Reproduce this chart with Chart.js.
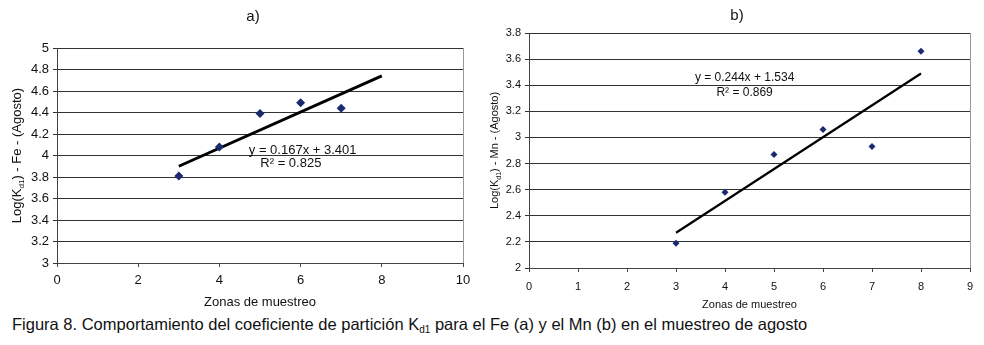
<!DOCTYPE html>
<html>
<head>
<meta charset="utf-8">
<script src="https://cdn.jsdelivr.net/npm/chart.js@4/dist/chart.umd.min.js"></script>
<style>
body { margin:0; background:#fff; width:984px; height:345px; overflow:hidden; position:relative; font-family:"Liberation Sans", Arial, sans-serif; }
.box { position:absolute; top:0; height:310px; }
#cap { position:absolute; left:12px; top:315px; font-family:"Liberation Sans", Arial, sans-serif; font-size:16.5px; line-height:19px; color:#111; white-space:nowrap; }
#cap sub { font-size:10px; vertical-align:-3px; line-height:0; }
</style>
</head>
<body>
<div class="box" style="left:0;width:480px"><canvas id="c1"></canvas></div>
<div class="box" style="left:480px;width:504px"><canvas id="c2"></canvas></div>
<div id="cap">Figura 8. Comportamiento del coeficiente de partición K<sub>d1</sub> para el Fe (a) y el Mn (b) en el muestreo de agosto</div>
<script>
// a) Fe
const zonasFe = [3, 4, 5, 6, 7]
const logKdFe = [3.81, 4.08, 4.39, 4.49, 4.44]
const trendFeX = [3, 8]
const trendFeY = [3.90, 4.74]
// b) Mn
const zonasMn = [3, 4, 5, 6, 7, 8]
const logKdMn = [2.19, 2.58, 2.87, 3.06, 2.93, 3.66]
const trendMnX = [3, 8]
const trendMnY = [2.27, 3.49]

const fam = '"Liberation Sans", Arial, sans-serif'

function pts(xs, ys) {
    let out = []
    for(let i = 0; i < xs.length; i++) out.push({x: xs[i], y: ys[i]})
    return out
}

const extras = {
    id: 'extras',
    afterDraw(chart, args, o) {
        const ctx = chart.ctx
        const sx = chart.scales.x, sy = chart.scales.y
        ctx.save()
        ctx.fillStyle = '#111'
        ctx.textBaseline = 'middle'
        ctx.textAlign = 'center'
        // panel title
        ctx.font = '15px ' + fam
        ctx.fillText(o.title, o.titleX, o.titleY)
        // trendline labels
        ctx.font = o.eqSize + 'px ' + fam
        for(const e of o.eq) {
            ctx.fillText(e.text, sx.getPixelForValue(e.x), sy.getPixelForValue(e.y))
        }
        // y axis title with subscript
        ctx.translate(o.yTitleX, (sy.top + sy.bottom) / 2)
        ctx.rotate(-Math.PI / 2)
        ctx.textAlign = 'left'
        const big = o.axSize + 'px ' + fam, small = Math.round(o.axSize * 0.62) + 'px ' + fam
        ctx.font = big
        const w1 = ctx.measureText('Log(K').width
        const w3 = ctx.measureText(o.yRest).width
        ctx.font = small
        const w2 = ctx.measureText('d1').width
        let x = -(w1 + w2 + w3) / 2
        ctx.font = big
        ctx.fillText('Log(K', x, 0)
        x += w1
        ctx.font = small
        ctx.fillText('d1', x, o.axSize * 0.35)
        x += w2
        ctx.font = big
        ctx.fillText(o.yRest, x, 0)
        ctx.restore()
    }
}

function makeChart(id, cfg) {
    return new Chart(document.getElementById(id), {
        type: 'scatter',
        data: {
            datasets: [{
                data: pts(cfg.xs, cfg.ys),
                pointStyle: 'rectRot',
                pointRadius: cfg.pr,
                backgroundColor: '#1b2a6e',
                borderColor: '#1b2a6e',
                borderWidth: 0
            }, {
                data: pts(cfg.tx, cfg.ty),
                showLine: true,
                pointRadius: 0,
                borderColor: '#000',
                borderWidth: cfg.lw
            }]
        },
        options: {
            responsive: true,
            maintainAspectRatio: false,
            animation: false,
            layout: { padding: { top: cfg.top, right: cfg.right, left: 0, bottom: 0 } },
            plugins: {
                legend: { display: false },
                tooltip: { enabled: false },
                extras: cfg.extras
            },
            scales: {
                x: {
                    min: cfg.xmin, max: cfg.xmax,
                    ticks: { stepSize: cfg.xstep, color: '#111', font: { family: fam, size: cfg.tick }, padding: cfg.xpad },
                    grid: { display: true, drawOnChartArea: false, color: '#444', tickLength: 4 },
                    border: { color: '#444' },
                    title: { display: true, text: 'Zonas de muestreo', color: '#111', font: { family: fam, size: cfg.ax }, padding: { top: 0, bottom: cfg.tbot } },
                    afterFit(s) { s.height = cfg.xh }
                },
                y: {
                    min: cfg.ymin, max: cfg.ymax,
                    ticks: {
                        stepSize: 0.2, color: '#111', font: { family: fam, size: cfg.tick }, padding: 4,
                        callback: v => String(Number(v.toFixed(1)))
                    },
                    grid: { color: '#333', tickLength: 4 },
                    border: { color: '#444' },
                    afterFit(s) { s.width = cfg.yw }
                }
            }
        },
        plugins: [extras, {
            id: 'frame',
            afterDatasetsDraw(chart) {
                const a = chart.chartArea, ctx = chart.ctx
                ctx.save()
                ctx.strokeStyle = '#999'
                ctx.lineWidth = 1
                ctx.beginPath()
                ctx.moveTo(a.right + 0.5, a.top)
                ctx.lineTo(a.right + 0.5, a.bottom)
                ctx.stroke()
                ctx.restore()
            }
        }]
    })
}

makeChart('c1', {
    xs: zonasFe, ys: logKdFe, tx: trendFeX, ty: trendFeY,
    pr: 4.5, lw: 3, top: 48, right: 17, xh: 47, yw: 57,
    xmin: 0, xmax: 10, xstep: 2, ymin: 3, ymax: 5, tick: 13, ax: 13, xpad: 6, tbot: 0,
    extras: {
        title: 'a)', titleX: 253, titleY: 17, eqSize: 13,
        eq: [{text: 'y = 0.167x + 3.401', x: 6.05, y: 4.05}, {text: 'R² = 0.825', x: 5.76, y: 3.93}],
        yTitleX: 17, axSize: 13, yRest: ') - Fe - (Agosto)'
    }
})

makeChart('c2', {
    xs: zonasMn, ys: logKdMn, tx: trendMnX, ty: trendMnY,
    pr: 3.5, lw: 2.2, top: 33, right: 14, xh: 42, yw: 49,
    xmin: 0, xmax: 9, xstep: 1, ymin: 2, ymax: 3.8, tick: 11, ax: 11, xpad: 8, tbot: -2,
    extras: {
        title: 'b)', titleX: 257, titleY: 16, eqSize: 12,
        eq: [{text: 'y = 0.244x + 1.534', x: 4.4, y: 3.457}, {text: 'R² = 0.869', x: 4.4, y: 3.342}],
        yTitleX: 15, axSize: 11, yRest: ') - Mn - (Agosto)'
    }
})
</script>
</body>
</html>
